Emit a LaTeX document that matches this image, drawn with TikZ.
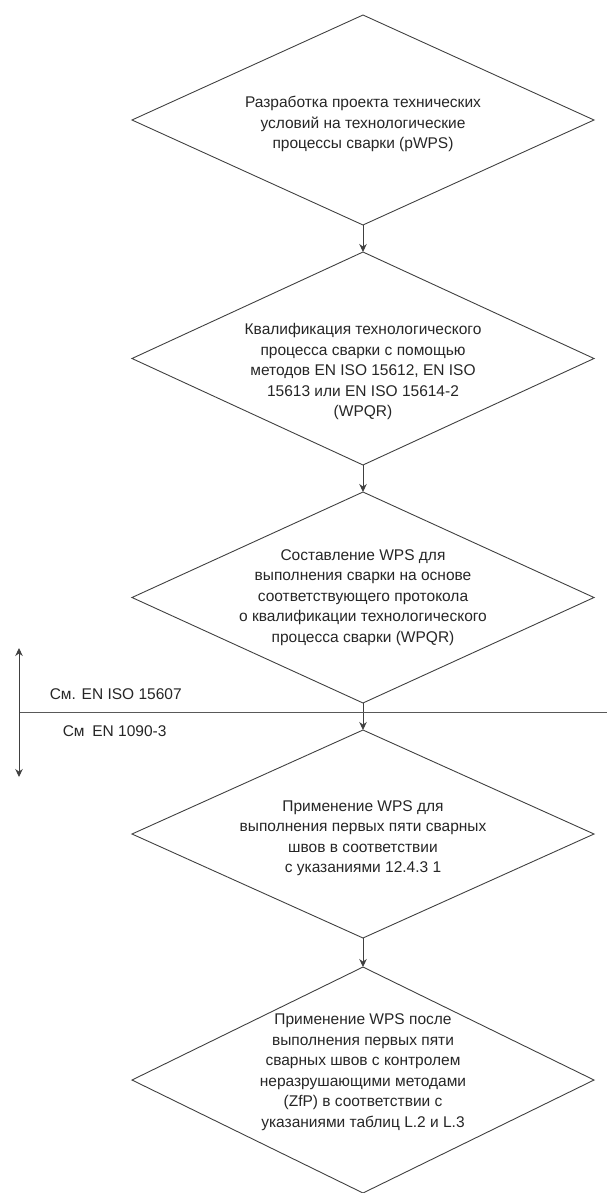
\documentclass[tikz,border=0pt]{standalone}
\usepackage{fontspec}
\setmainfont{Liberation Sans}
\usetikzlibrary{arrows.meta,positioning,shapes.geometric}

\begin{document}
\begin{tikzpicture}[>={Stealth[length=8pt,width=7.5pt]}, node distance=27pt,
  line width=0.9pt, draw=black!80,
  rhomb/.style={draw=black!75,diamond,minimum width=462pt,inner sep=0pt,outer sep=0pt},
  txt/.style={align=center,text=black!85,font=\fontsize{15.5}{20.5}\selectfont},
  side/.style={anchor=west,text=black!85,font=\fontsize{15.5}{19}\selectfont},
  arr/.style={->,draw=black!75}]
\useasboundingbox (0,0) rectangle (607pt,-1193pt);
% main chain
\node[rhomb,minimum height=210pt] (d1) at (363pt,-120pt) {};
\node[rhomb,minimum height=213pt,below=of d1] (d2) {};
\node[rhomb,minimum height=211pt,below=of d2] (d3) {};
\node[rhomb,minimum height=208pt,below=of d3] (d4) {};
\node[rhomb,minimum height=226pt,below=29pt of d4] (d5) {};
\node[txt] (t1) at ([yshift=-4pt]d1.center) {Разработка проекта технических\\условий на технологические\\процессы сварки (pWPS)};
\node[txt] (t2) at ([yshift=-13pt]d2.center) {Квалификация технологического\\процесса сварки с помощью\\методов EN ISO 15612, EN ISO\\15613 или EN ISO 15614-2\\(WPQR)};
\node[txt] (t3) at (d3.center) {Составление WPS для\\выполнения сварки на основе\\соответствующего протокола\\о квалификации технологического\\процесса сварки (WPQR)};
\node[txt] (t4) at ([yshift=-4pt]d4.center) {Применение WPS для\\выполнения первых пяти сварных\\швов в соответствии\\с указаниями 12.4.3 1};
\node[txt] (t5) at ([yshift=8pt]d5.center) {Применение WPS после\\выполнения первых пяти\\сварных швов с контролем\\неразрушающими методами\\(ZfP) в соответствии с\\указаниями таблиц L.2 и L.3};
\draw[arr] (d1) -- (d2);
\draw[arr] (d2) -- (d3);
\draw[arr] (d3) -- (d4);
\draw[arr] (d4) -- (d5);
% standards boundary
\coordinate (lft) at (19pt,-712pt);
\coordinate (rgt) at (607pt,-712pt);
\coordinate (up) at (19pt,-648pt);
\coordinate (dn) at (19pt,-777pt);
\draw[draw=black!65] (lft) -- (rgt);
\draw[<->,draw=black!75] (up) -- (dn);
\node[side] (iso) at (46pt,-694pt) {См. EN ISO 15607};
\node[side] (en) at (59pt,-731pt) {См\enspace EN 1090-3};
\end{tikzpicture}
\end{document}
